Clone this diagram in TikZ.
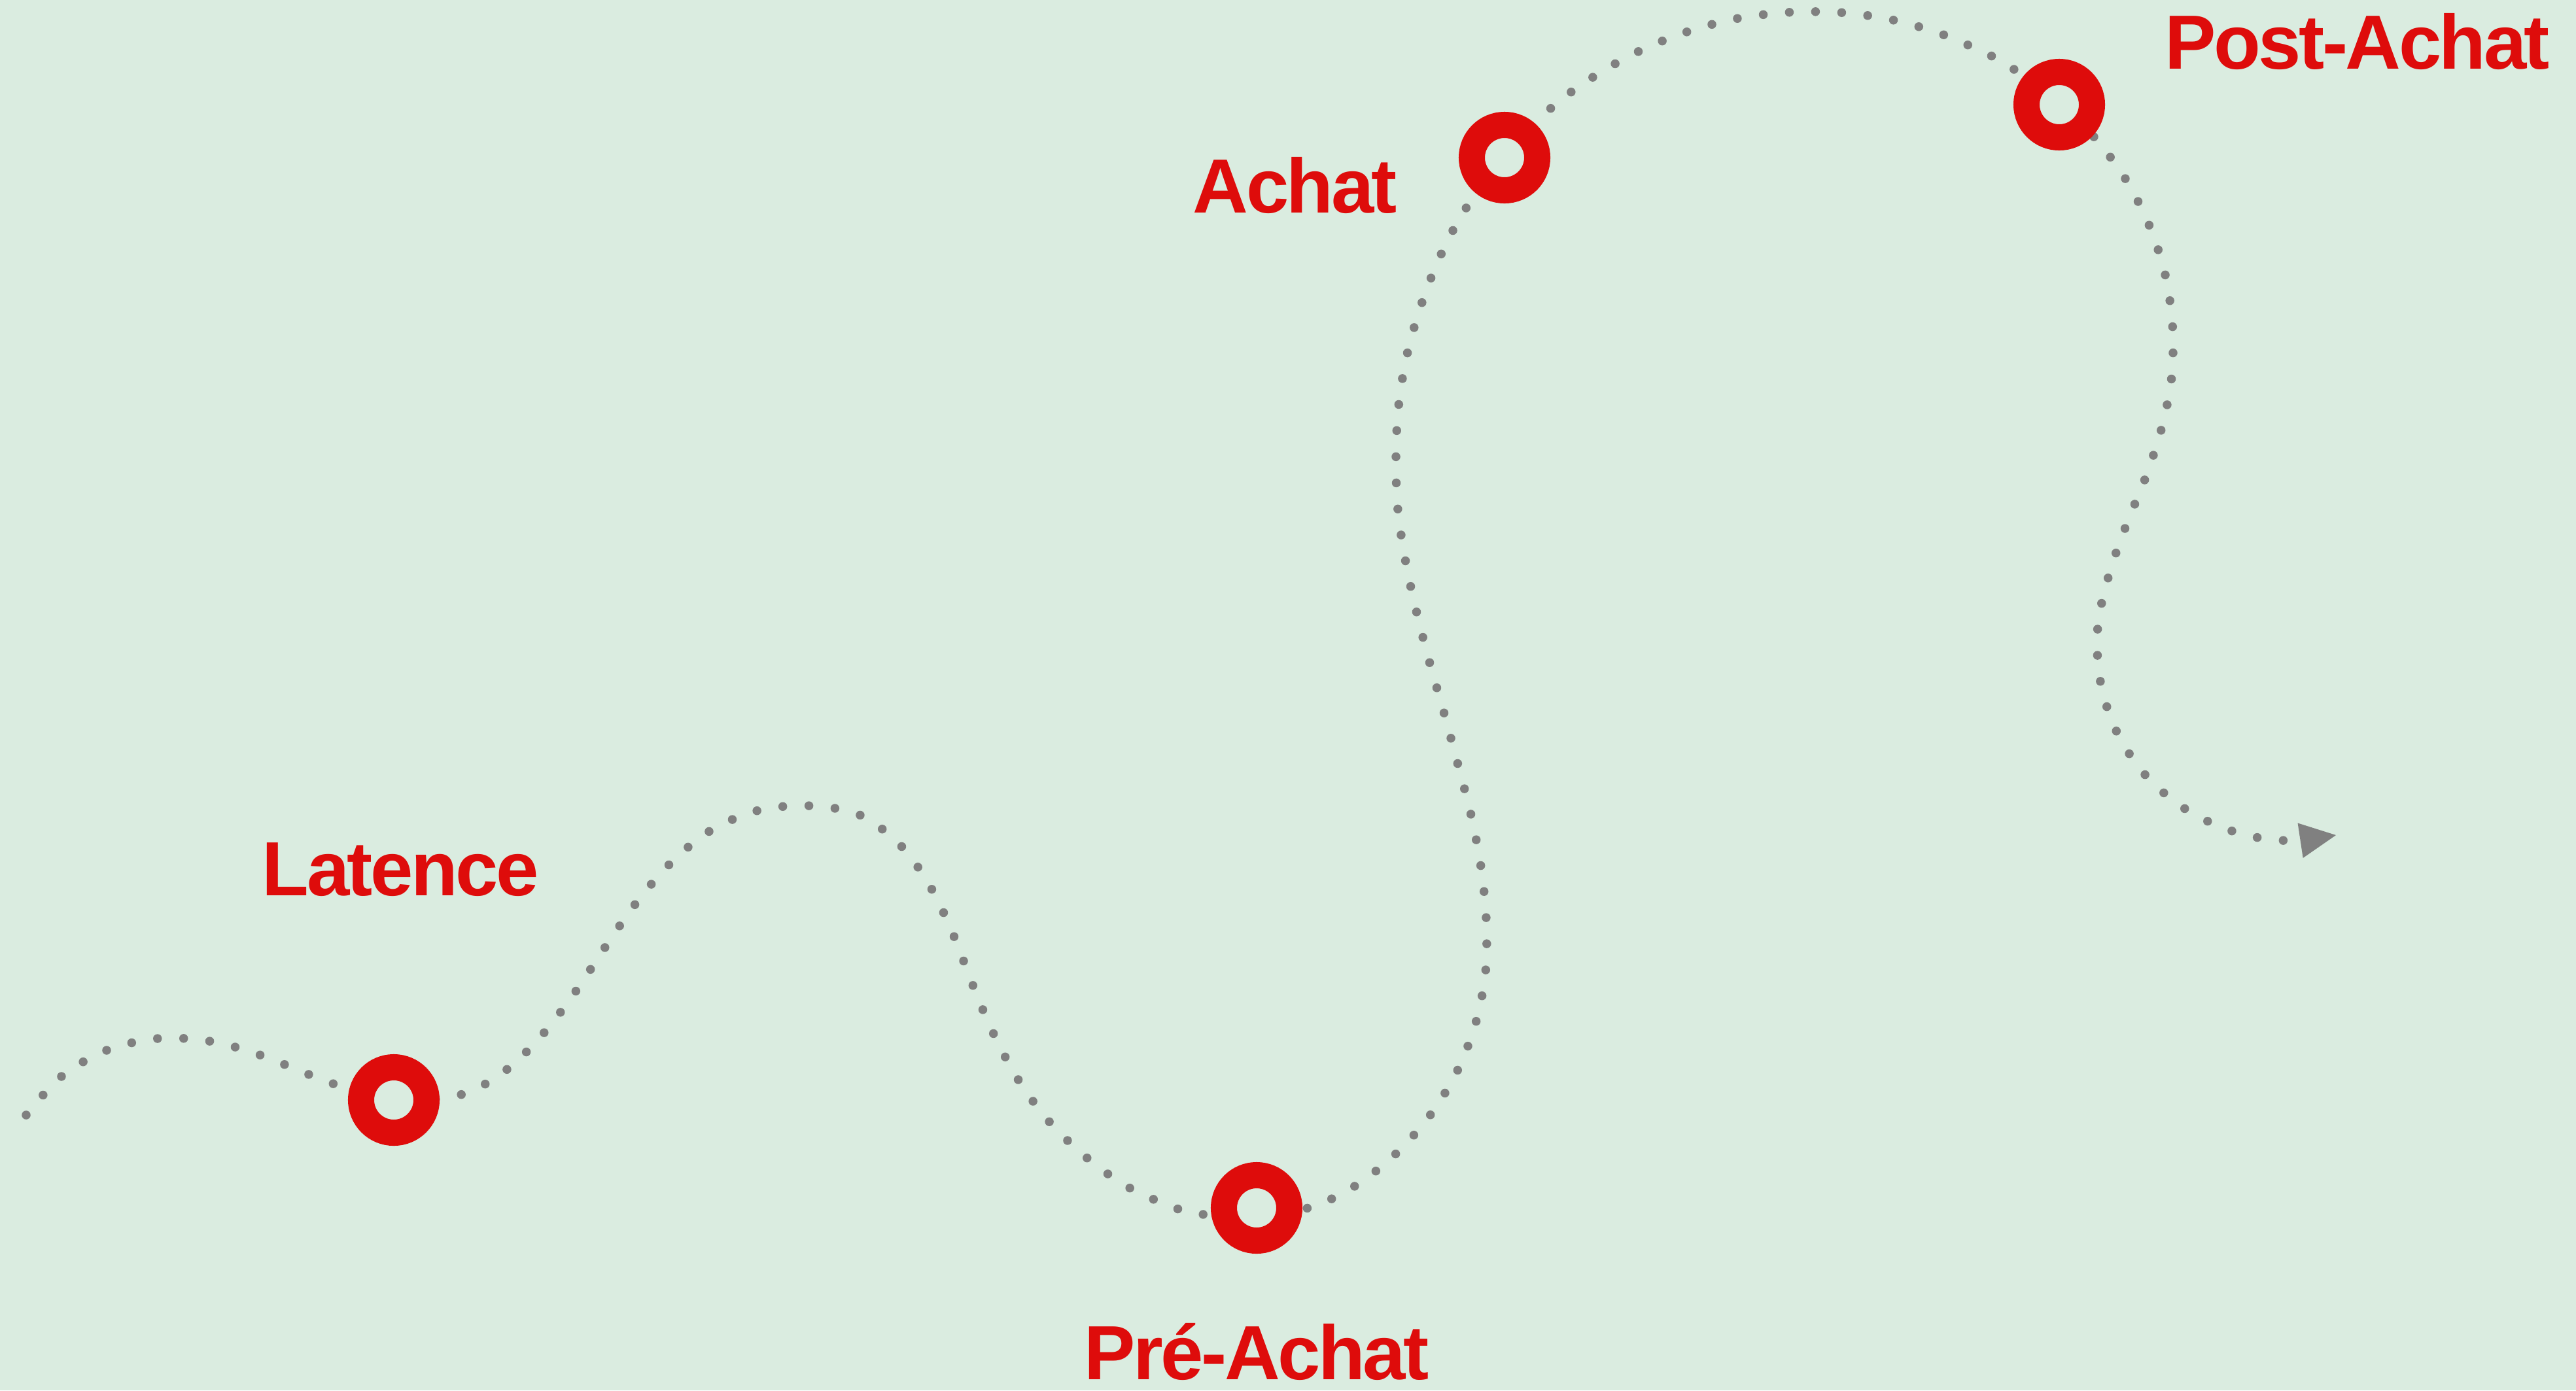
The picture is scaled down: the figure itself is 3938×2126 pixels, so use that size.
\documentclass[tikz,border=0pt]{standalone}
\usepackage{fontspec}
\newfontfamily\lblfont{Liberation Sans}[LetterSpace=-3]
\usetikzlibrary{arrows.meta}
\definecolor{bgc}{HTML}{DAECE0}
\definecolor{ringred}{HTML}{DE0C0B}
\definecolor{dotgray}{HTML}{808080}
\tikzset{
  ringnode/.style={circle, draw=ringred, fill=bgc, line width=0.4cm, minimum size=1cm, inner sep=0pt},
  dotpath/.style={dotgray, line width=0.135cm, line cap=round, dash pattern=on 0pt off 0.4cm},
  lbl/.style={text=ringred, inner sep=0pt, anchor=base west, font=\lblfont\bfseries\fontsize{33.4}{40}\selectfont}
}
\begin{document}
\begin{tikzpicture}[x=0.01cm, y=-0.01cm]
\fill[bgc] (0,0) rectangle (3938,2126);
\useasboundingbox (0,0) rectangle (3938,2126);
\coordinate (start) at (40,1705);
\coordinate (pLat) at (602,1682);
\coordinate (pPre) at (1921,1847);
\coordinate (pAch) at (2300,241);
\coordinate (pPost) at (3148,160);
\coordinate (tip) at (3571,1277);
\draw[dotpath, -{Triangle[length=0.55cm, width=0.54cm, line width=0pt]}]
  plot[smooth, tension=0.55] coordinates {
  (start) (94,1646) (163,1606) (241,1588) (320,1592) (397,1613) (509,1657) (pLat)
  (704,1674) (774,1636) (831,1580) (880,1516) (924,1450) (970,1384) (1022,1323)
  (1083,1272) (1156,1240) (1235,1232) (1314,1246) (1378,1294) (1424,1359)
  (1458,1431) (1487,1506) (1518,1579) (1556,1650) (1603,1714) (1661,1770)
  (1726,1816) (1799,1848) (1838,1857) (pPre) (1996,1848) (2069,1815) (2132,1766)
  (2185,1707) (2227,1639) (2256,1564) (2271,1486) (2272,1405) (2264,1326)
  (2249,1247) (2229,1170) (2208,1092) (2186,1015) (2166,938) (2149,860)
  (2137,780) (2134,701) (2138,621) (2151,542) (2173,465) (2202,391) (2240,320)
  (pAch) (2368,168) (2432,120) (2502,80) (2575,50) (2652,29) (2732,19) (2812,19)
  (2891,30) (2968,52) (3041,84) (3076,104) (pPost) (3199,207) (3247,270)
  (3284,341) (3309,416) (3321,495) (3320,575) (3305,653) (3280,730) (3250,804)
  (3224,879) (3207,957) (3210,1037) (3233,1113) (3276,1181) (3336,1234)
  (3407,1269) (3485,1285) (tip)};
\node[ringnode] (latence) at (pLat) {};
\node[ringnode] (preachat) at (pPre) {};
\node[ringnode] (achat) at (pAch) {};
\node[ringnode] (postachat) at (pPost) {};
\node[lbl] (tLat) at (400,1369) {Latence};
\node[lbl] (tAch) at (1823,325) {Achat};
\node[lbl] (tPre) at (1657,2109) {Pré-Achat};
\node[lbl] (tPost) at (3309,105) {Post-Achat};
\end{tikzpicture}
\end{document}
